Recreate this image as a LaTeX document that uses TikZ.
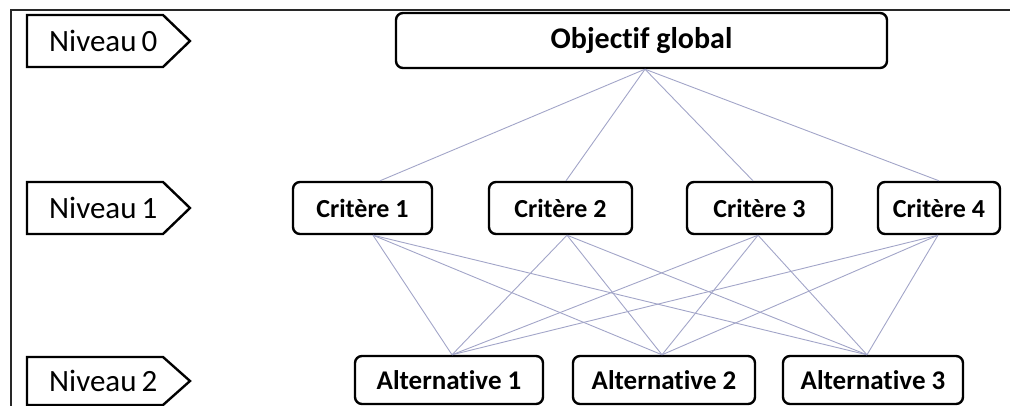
\documentclass[tikz,border=0pt]{standalone}
\usepackage{fontspec}
\setmainfont[Ligatures=NoCommon]{Carlito}
\definecolor{edgecol}{RGB}{162,165,200}
\definecolor{framecol}{RGB}{40,40,40}
\tikzset{
  box/.style={draw=black, line width=2.4pt, rounded corners=7pt, inner sep=0pt, font=\bfseries},
  critbox/.style={box, minimum height=52pt, font=\fontsize{26}{30}\selectfont\bfseries},
  altbox/.style={box, minimum height=48pt, font=\fontsize{27}{32}\selectfont\bfseries},
  lvl/.style={draw=black, line width=2.4pt, line join=miter},
  lvltext/.style={anchor=west, inner sep=0pt, font=\fontsize{31}{36}\selectfont},
  edge/.style={draw=edgecol, line width=0.9pt},
}
\begin{document}
\begin{tikzpicture}[x=1pt, y=-1pt]
\useasboundingbox (0,0) rectangle (1010,406);
% frame
\draw[framecol, line width=1.6pt] (11,406) -- (11,10) -- (1010,10);
% level labels
\draw[lvl] (27,15) -- (163,15) -- (190,41) -- (163,67) -- (27,67) -- cycle;
\node[lvltext] (n0) at (49,41) {Niveau\,0};
\draw[lvl] (27,182) -- (163,182) -- (190,208) -- (163,234) -- (27,234) -- cycle;
\node[lvltext] (n1) at (49,208) {Niveau\,1};
\draw[lvl] (27,357) -- (163,357) -- (190,381) -- (163,405) -- (27,405) -- cycle;
\node[lvltext] (n2) at (49,381) {Niveau\,2};
% nodes
\node[box, minimum width=491pt, minimum height=55pt, font=\fontsize{30}{35}\selectfont\bfseries] (obj) at (641.5,40.5) {Objectif global};
\node[critbox, minimum width=139pt] (c1) at (362.5,208) {Critère 1};
\node[critbox, minimum width=143pt] (c2) at (560.5,208) {Critère 2};
\node[critbox, minimum width=145pt] (c3) at (759.5,208) {Critère 3};
\node[critbox, minimum width=122pt] (c4) at (939,208) {Critère 4};
\node[altbox, minimum width=188pt] (a1) at (449,380) {Alternative 1};
\node[altbox, minimum width=182pt] (a2) at (664,380) {Alternative 2};
\node[altbox, minimum width=180pt] (a3) at (873,380) {Alternative 3};
% edges level 0 -> 1
\draw[edge] ([xshift=3.5pt]obj.south) -- ([xshift=17.5pt]c1.north);
\draw[edge] ([xshift=3.5pt]obj.south) -- ([xshift=5.5pt]c2.north);
\draw[edge] ([xshift=3.5pt]obj.south) -- ([xshift=-6.5pt]c3.north);
\draw[edge] ([xshift=3.5pt]obj.south) -- (c4.north);
% edges level 1 -> 2
\foreach \c/\s in {c1/10.5, c2/6.5, c3/-1.5, c4/-1}{
  \draw[edge] ([xshift=\s pt]\c.south) -- ([xshift=3pt]a1.north);
  \draw[edge] ([xshift=\s pt]\c.south) -- ([xshift=-2pt]a2.north);
  \draw[edge] ([xshift=\s pt]\c.south) -- ([xshift=-6pt]a3.north);
}
\end{tikzpicture}
\end{document}
